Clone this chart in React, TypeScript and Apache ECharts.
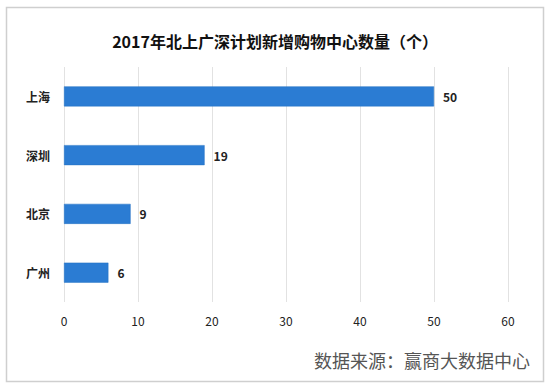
import React, { useEffect, useRef } from "react";
import * as echarts from "echarts";

const categories = ["上海", "深圳", "北京", "广州"];
const values = [50, 19, 9, 6];
const xTicks = { min: 0, max: 60, interval: 10 };
const titleText = "2017年北上广深计划新增购物中心数量（个）";
const sourceText = "数据来源：赢商大数据中心";

export default function App() {
  const ref = useRef<HTMLDivElement>(null);
  useEffect(() => {
    if (!ref.current) return;
    const chart = echarts.init(ref.current, null, { renderer: "svg" });
    chart.setOption({
      animation: false,
      backgroundColor: "#ffffff",
      title: {
        text: titleText,
        left: "center",
        top: 28,
        textStyle: {
          fontFamily: "Noto Sans CJK SC",
          fontSize: 16,
          fontWeight: "bold",
          color: "#111",
        },
      },
      graphic: [
        {
          type: "rect",
          shape: { x: 6.5, y: 7.5, width: 537, height: 374 },
          style: { fill: "none", stroke: "#cfcfcf", lineWidth: 1.5 },
          silent: true,
        },
        {
          type: "text",
          right: 20,
          top: 351,
          style: {
            text: sourceText,
            font: "18px 'Noto Sans CJK SC'",
            fill: "#555",
          },
        },
      ],
      grid: { left: 64, right: 42, top: 67, bottom: 86 },
      xAxis: {
        type: "value",
        min: xTicks.min,
        max: xTicks.max,
        interval: xTicks.interval,
        axisLine: { show: false },
        axisTick: { show: false },
        splitLine: { show: true, lineStyle: { color: "#e2e2e2", width: 1 } },
        axisLabel: {
          margin: 12,
          color: "#222",
          fontSize: 12,
          fontFamily: "Noto Sans CJK SC",
        },
      },
      yAxis: {
        type: "category",
        data: categories,
        inverse: true,
        axisLine: { show: false },
        axisTick: { show: false },
        axisLabel: {
          margin: 14,
          color: "#222",
          fontSize: 12,
          fontWeight: "bold",
          fontFamily: "Noto Sans CJK SC",
        },
      },
      series: [
        {
          type: "bar",
          data: values,
          barWidth: 20,
          itemStyle: { color: "#2b7cd3", borderColor: "#2470c2", borderWidth: 0.5 },
          label: {
            show: true,
            position: "right",
            distance: 9,
            color: "#222",
            fontSize: 12,
            fontWeight: "bold",
            fontFamily: "Noto Sans CJK SC",
          },
        },
      ],
    });
    return () => chart.dispose();
  }, []);
  return (
    <div
      ref={ref}
      style={{ position: "fixed", left: 0, top: 0, width: 550, height: 388 }}
    />
  );
}
